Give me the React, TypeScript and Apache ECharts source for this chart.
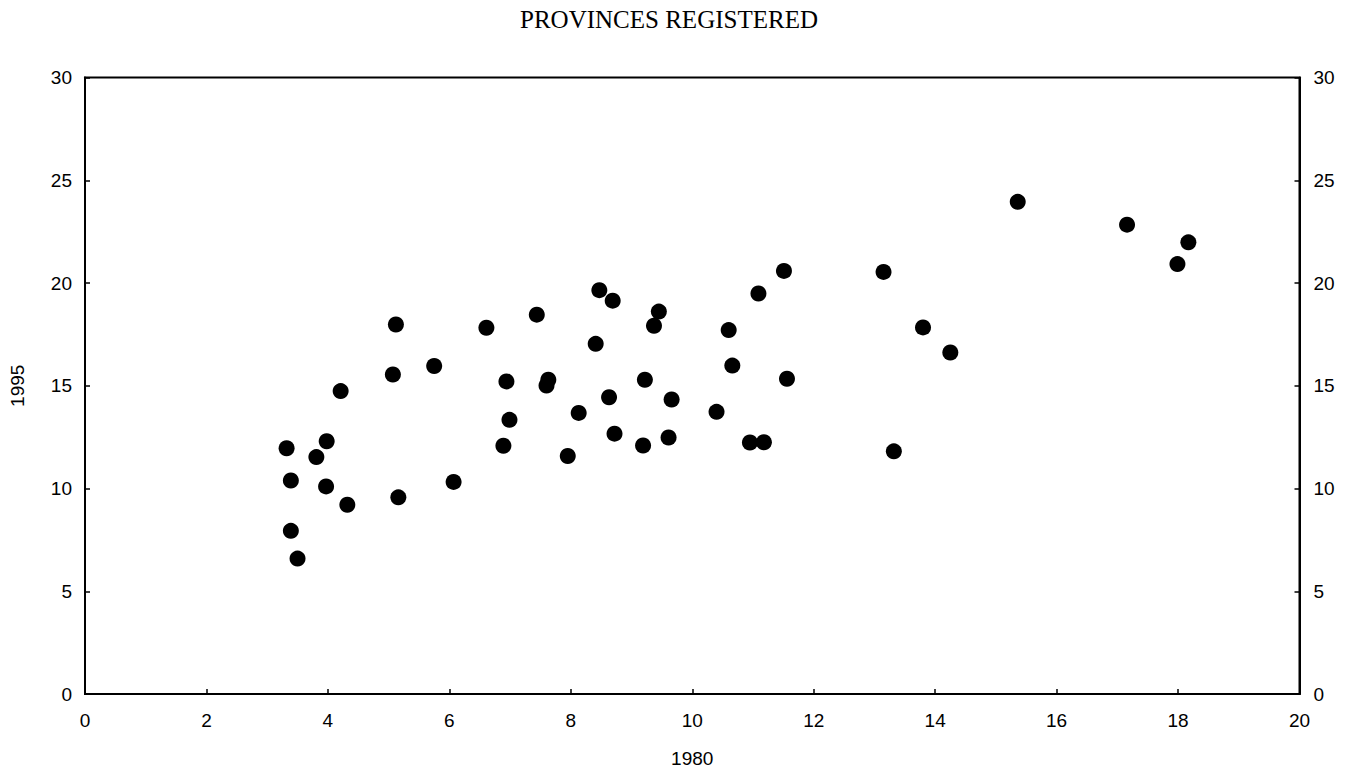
import React, { useEffect, useRef } from "react";
import * as echarts from "echarts";

const TITLE = "PROVINCES REGISTERED";
const X_NAME = "1980";
const Y_NAME = "1995";

// Values in 1980 (x) and 1995 (y)
const x1980: number[] = [
  3.32, 3.39, 3.39, 3.5, 3.81, 3.98, 3.97, 4.21, 4.32, 5.07,
  5.12, 5.16, 5.75, 6.07, 6.61, 6.89, 6.94, 6.99, 7.44, 7.63,
  7.6, 7.95, 8.13, 8.41, 8.47, 8.69, 8.63, 8.72, 9.19, 9.22,
  9.37, 9.45, 9.66, 9.61, 10.4, 10.6, 10.66, 10.95, 11.18, 11.09,
  11.51, 11.56, 13.15, 13.32, 13.8, 14.25, 15.36, 17.16, 18.17, 17.99,
];
const y1995: number[] = [
  11.96, 10.39, 7.94, 6.59, 11.53, 12.3, 10.1, 14.74, 9.21, 15.55,
  17.98, 9.57, 15.96, 10.32, 17.82, 12.08, 15.21, 13.34, 18.46, 15.29,
  15.01, 11.58, 13.68, 17.04, 19.65, 19.14, 14.44, 12.67, 12.09, 15.29,
  17.92, 18.61, 14.33, 12.48, 13.73, 17.71, 15.98, 12.24, 12.25, 19.49,
  20.59, 15.34, 20.54, 11.81, 17.84, 16.62, 23.95, 22.84, 21.98, 20.92,
];

const X_MIN = 0;
const X_MAX = 20;
const X_STEP = 2;
const Y_MIN = 0;
const Y_MAX = 30;
const Y_STEP = 5;

export default function App() {
  const ref = useRef<HTMLDivElement>(null);

  useEffect(() => {
    if (!ref.current) return;
    const chart = echarts.init(ref.current, undefined, { renderer: "svg" });
    const points = x1980.map((x, i) => [x, y1995[i]]);
    const axisFont = {
      color: "#000",
      fontSize: 19,
      fontFamily: "Liberation Sans, Arial, sans-serif",
    };
    const yAxisBase = {
      type: "value" as const,
      min: Y_MIN,
      max: Y_MAX,
      interval: Y_STEP,
      splitLine: { show: false },
      axisLine: { show: true, onZero: false, lineStyle: { color: "#000", width: 2 } },
      axisTick: { show: true, inside: true, length: 5, lineStyle: { color: "#000", width: 1.5 } },
    };
    chart.setOption({
      animation: false,
      backgroundColor: "#fff",
      title: {
        text: TITLE,
        left: 664,
        top: 2,
        textAlign: "center",
        textStyle: {
          color: "#000",
          fontSize: 25,
          fontWeight: "normal",
          fontFamily: "Liberation Serif, Times New Roman, serif",
        },
      },
      grid: {
        left: 83.5,
        right: 54.5,
        top: 77.5,
        bottom: 80,
        show: true,
        borderColor: "#000",
        borderWidth: 2,
        backgroundColor: "transparent",
      },
      xAxis: {
        type: "value",
        min: X_MIN,
        max: X_MAX,
        interval: X_STEP,
        name: X_NAME,
        nameLocation: "middle",
        nameGap: 55,
        nameTextStyle: axisFont,
        splitLine: { show: false },
        axisLine: { show: true, onZero: false, lineStyle: { color: "#000", width: 2 } },
        axisTick: { show: true, inside: true, length: 5, lineStyle: { color: "#000", width: 1.5 } },
        axisLabel: { ...axisFont, margin: 17 },
      },
      yAxis: [
        {
          ...yAxisBase,
          position: "left",
          name: Y_NAME,
          nameLocation: "middle",
          nameGap: 58,
          nameRotate: 90,
          nameTextStyle: axisFont,
          axisLabel: { ...axisFont, margin: 13 },
        },
        {
          ...yAxisBase,
          position: "right",
          axisLabel: { ...axisFont, margin: 14 },
        },
      ],
      series: [
        {
          type: "scatter",
          yAxisIndex: 0,
          data: points,
          symbol: "circle",
          symbolSize: 16,
          itemStyle: { color: "#000", opacity: 1 },
        },
      ],
    });
    return () => chart.dispose();
  }, []);

  return (
    <div
      ref={ref}
      style={{ position: "absolute", left: 0, top: 0, width: 1354, height: 774 }}
    />
  );
}
